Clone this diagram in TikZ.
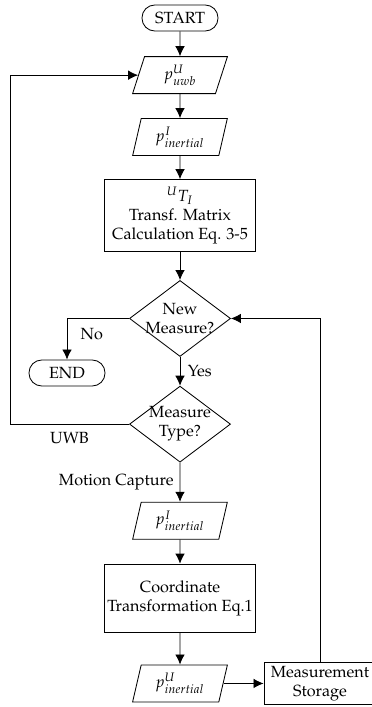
\documentclass[tikz,border=0pt]{standalone}
\usepackage[T1]{fontenc}
\usepackage{mathpazo}
\usetikzlibrary{arrows.meta, positioning, shapes.geometric, calc}
\tikzset{
  terminal/.style = {
    draw,
    rectangle,
    rounded corners=0.32cm,
    minimum width=1.9cm,
    minimum height=0.65cm,
    inner sep=1pt,
  },
  ioBox/.style = {
    draw,
    trapezium,
    trapezium left angle=75,
    trapezium right angle=105,
    trapezium stretches,
    minimum width=2.375cm,
    minimum height=0.925cm,
    inner sep=0pt,
  },
  process/.style = {
    draw,
    align=center,
    minimum width=3.775cm,
    inner sep=1pt,
  },
  decision/.style = {
    draw,
    diamond,
    align=center,
    aspect=1.33,
    inner sep=-3pt,
    minimum width=2.525cm,
    minimum height=1.9cm,
  },
  flow/.style = {
    -{Latex[length=2.5mm, width=2.4mm]},
  },
}

\begin{document}
\begin{tikzpicture}[
  x=0.025cm,
  y=-0.025cm,
  line width=0.6pt,
  font=\fontsize{11.5}{13.5}\selectfont,
]
\useasboundingbox (0,0) rectangle (371,707);

\node(start)[terminal] at (180,18) {START};
\node(uwbIn)[ioBox, below=0.62cm of start] {$p^{U}_{uwb}$};
\node(inertialIn)[ioBox, below=0.6cm of uwbIn] {$p^{I}_{inertial}$};
\node(matrixCalc)[process, minimum height=1.8cm, below=0.58cm of inertialIn] {
  ${}^{U}T_{I}$\\
  Transf. Matrix\\
  Calculation Eq. 3-5
};
\node(newMeasure)[decision, below=0.7cm of matrixCalc] {New\\Measure?};
\node(finish)[terminal] at (67,373) {END};
\node(measureType)[decision, below=0.72cm of newMeasure] {Measure\\Type?};
\node(inertialIn2)[ioBox, below=0.98cm of measureType] {$p^{I}_{inertial}$};
\node(coordTransf)[process, minimum height=1.7cm, below=0.6cm of inertialIn2] {
  Coordinate\\
  Transformation Eq.1
};
\node(inertialOut)[ioBox, below=0.8cm of coordTransf] {$p^{U}_{inertial}$};
\node(storage)[process, minimum width=2.8cm, minimum height=1.05cm, right=1.0cm of inertialOut] {
  Measurement\\
  Storage
};

\coordinate (loopLeft) at (10,0);

\draw[flow] (start) -- (uwbIn);
\draw[flow] (uwbIn) -- (inertialIn);
\draw[flow] (inertialIn) -- (matrixCalc);
\draw[flow] (matrixCalc) -- (newMeasure);
\draw[flow] (newMeasure.west) -| node[pos=0.3, below=3pt] {No} (finish);
\draw[flow] (newMeasure) -- node[right=2pt] {Yes} (measureType);
\draw[flow] (measureType.west) -- node[below=2pt] {UWB} (measureType.west -| loopLeft)
  |- (uwbIn.west);
\draw[flow] (measureType) -- node[left=1pt] {Motion Capture} (inertialIn2);
\draw[flow] (inertialIn2) -- (coordTransf);
\draw[flow] (coordTransf) -- (inertialOut);
\draw[flow] (inertialOut) -- (storage);
\draw[flow] (storage.north) |- (newMeasure.east);

\end{tikzpicture}
\end{document}
